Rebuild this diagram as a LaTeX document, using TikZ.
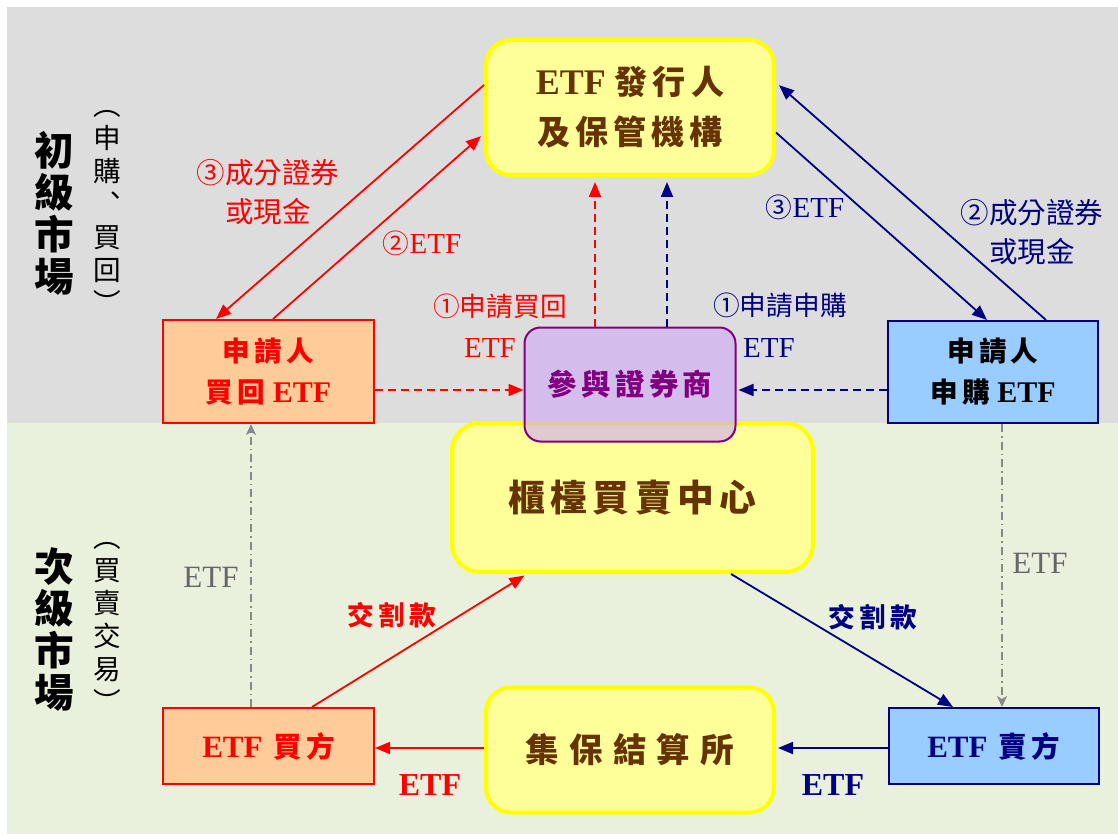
\documentclass[tikz,border=0pt]{standalone}
\usepackage{fontspec}
\setmainfont{Liberation Serif}
\newfontfamily\cjk[Scale=0.92]{Noto Sans CJK TC}
\newfontfamily\cjks[Scale=0.92,LetterSpace=15]{Noto Sans CJK TC}
\newfontfamily\cjkw[Scale=0.92,LetterSpace=30]{Noto Sans CJK TC}
\usetikzlibrary{arrows.meta,calc}
\definecolor{bggray}{RGB}{221,221,221}
\definecolor{bggreen}{RGB}{233,240,220}
\definecolor{lyel}{RGB}{255,255,153}
\definecolor{yel}{RGB}{255,255,0}
\definecolor{brn}{RGB}{102,51,0}
\definecolor{orng}{RGB}{255,204,153}
\definecolor{lblue}{RGB}{153,204,255}
\definecolor{navy}{RGB}{0,0,128}
\definecolor{purp}{RGB}{128,0,128}
\definecolor{pfill}{RGB}{206,166,246}
\definecolor{gtxt}{RGB}{102,102,102}
\definecolor{garrow}{RGB}{136,136,136}
\definecolor{rred}{RGB}{255,0,0}
\begin{document}
\begin{tikzpicture}[x=1pt,y=-1pt,
  ybox/.style={draw=yel, fill=lyel, line width=4pt, rounded corners=25pt, text=brn, align=center, inner sep=0pt},
  obox/.style={draw=rred, fill=orng, line width=2pt, text=rred, align=center, inner sep=0pt, minimum width=211pt},
  bbox/.style={draw=navy, fill=lblue, line width=2pt, align=center, inner sep=0pt, minimum width=210pt},
  rarr/.style={draw=rred, line width=1.8pt, -{Triangle[length=15pt,width=12pt]}},
  barr/.style={draw=navy, line width=1.8pt, -{Triangle[length=15pt,width=12pt]}},
  dsh/.style={dash pattern=on 8pt off 5pt},
  garr/.style={draw=garrow, line width=1.5pt, dash pattern=on 8pt off 4pt on 1.5pt off 4pt, -{Stealth[length=11pt,width=10pt,inset=3pt]}},
  lab/.style={inner sep=0pt, align=center},
  vlab/.style={inner sep=0pt, align=center},
]
\useasboundingbox (0,0) rectangle (1118,834);
\fill[white] (0,0) rectangle (1118,834);
\fill[bggray] (7,7) rectangle (1118,423);
\fill[bggreen] (7,423) rectangle (1118,834);

% side labels
\node[vlab, font=\fontsize{43}{42}\selectfont\bfseries\cjk] (pm) at (54,213) {初\\級\\市\\場};
\node[vlab, font=\fontsize{30}{33}\selectfont\cjk] (pmsub) at (107,212) {︵\\申\\購\\︑\\買\\回\\︶};
\node[vlab, font=\fontsize{43}{42}\selectfont\bfseries\cjk] (sm) at (54,630) {次\\級\\市\\場};
\node[vlab, font=\fontsize{30}{33}\selectfont\cjk] (smsub) at (107,627) {︵\\買\\賣\\交\\易\\︶};

% nodes
\node[ybox, minimum width=288pt, minimum height=135pt, font=\fontsize{36}{50}\selectfont\bfseries] (iss) at (630,107.5) {ETF {\cjks 發行人}\\{\cjks 及保管機構}};
\node[obox, minimum height=103pt, font=\fontsize{30}{41}\selectfont\bfseries] (red1) at (268.5,371.5) {{\cjks 申請人}\\{\cjks 買回} ETF};
\node[bbox, minimum height=102pt, font=\fontsize{30}{41}\selectfont\bfseries] (blue1) at (993,372) {{\cjks 申請人}\\{\cjks 申購} ETF};
\node[ybox, rounded corners=28pt, minimum width=361pt, minimum height=149pt, font=\fontsize{40}{48}\selectfont\bfseries] (otc) at (632.5,497.5) {\cjks 櫃檯買賣中心};
\node[draw=purp, line width=2pt, fill=pfill, fill opacity=0.6, text opacity=1, rounded corners=16pt, minimum width=211pt, minimum height=114pt, inner sep=0pt, text=purp, font=\fontsize{32}{40}\selectfont\bfseries] (broker) at (630,384.5) {\cjks 參與證券商};
\node[obox, minimum height=76pt, font=\fontsize{31}{40}\selectfont\bfseries] (buyer) at (268.5,746) {ETF\hspace{0.35em}{\cjks 買方}};
\node[ybox, minimum width=288pt, minimum height=125pt, font=\fontsize{36.5}{48}\selectfont\bfseries] (tdcc) at (630,750) {\cjkw 集保結算所};
\node[bbox, minimum height=76pt, text=navy, font=\fontsize{31}{40}\selectfont\bfseries] (seller) at (993.5,746) {ETF\hspace{0.35em}{\cjks 賣方}};

% primary market arrows (redemption, red)
\draw[rarr] ([yshift=22.5pt]iss.west) -- ([xshift=-52.5pt]red1.north);
\draw[rarr, shorten >=4pt] ([xshift=4.5pt]red1.north) -- ([yshift=-26pt]iss.west);
\draw[rarr, dsh] (red1.east |- 0,390) -- (broker.west |- 0,390);
\draw[rarr, dsh, shorten >=5pt] (broker.north -| 595,0) -- (iss.south -| 595,0);
% primary market arrows (creation, navy)
\draw[barr] ([yshift=-25pt]iss.east) -- ([xshift=-6pt]blue1.north);
\draw[barr, shorten >=4pt] ([xshift=53pt]blue1.north) -- ([yshift=25pt]iss.east);
\draw[barr, dsh, shorten >=2pt] (blue1.west |- 0,390) -- (broker.east |- 0,390);
\draw[barr, dsh, shorten >=5pt] (broker.north -| 667,0) -- (iss.south -| 667,0);

% secondary market arrows
\draw[garr] (buyer.north -| 251,0) -- (red1.south -| 251,0);
\draw[garr] (blue1.south -| 1002,0) -- (seller.north -| 1002,0);
\draw[rarr, shorten >=3pt] (buyer.north -| 312,0) -- (otc.south -| 527,0);
\draw[barr] (otc.south -| 731,0) -- (seller.north -| 953,0);
\draw[rarr] (tdcc.west |- 0,748) -- (buyer.east |- 0,748);
\draw[barr, shorten >=2pt] (seller.west |- 0,748) -- (tdcc.east |- 0,748);

% labels
\node[lab, text=rred, font=\fontsize{31}{39}\selectfont] (l1) at (268,192) {{\cjk ③成分證券}\\{\cjk 或現金}};
\node[lab, text=rred, font=\fontsize{29}{36}\selectfont] (l2) at (422,243) {{\cjk ②}ETF};
\node[lab, text=rred, font=\fontsize{29}{36}\selectfont] (l3) at (500,306) {\cjk ①申請買回};
\node[lab, text=rred, font=\fontsize{29}{36}\selectfont] (l3b) at (490,348) {ETF};
\node[lab, text=navy, font=\fontsize{29}{36}\selectfont] (l4) at (805,207) {{\cjk ③}ETF};
\node[lab, text=navy, font=\fontsize{31}{39}\selectfont] (l5) at (1032,232) {{\cjk ②成分證券}\\{\cjk 或現金}};
\node[lab, text=navy, font=\fontsize{29}{36}\selectfont] (l6) at (780,305) {\cjk ①申請申購};
\node[lab, text=navy, font=\fontsize{29}{36}\selectfont] (l6b) at (769,348) {ETF};
\node[lab, text=gtxt, font=\fontsize{31}{36}\selectfont] (l7) at (211,577) {ETF};
\node[lab, text=gtxt, font=\fontsize{31}{36}\selectfont] (l8) at (1040,563) {ETF};
\node[lab, text=rred, font=\fontsize{29}{36}\selectfont\bfseries] (l9) at (392,615) {\cjks 交割款};
\node[lab, text=navy, font=\fontsize{29}{36}\selectfont\bfseries] (l10) at (873,617) {\cjks 交割款};
\node[lab, text=rred, font=\fontsize{32}{36}\selectfont\bfseries] (l11) at (430,785) {ETF};
\node[lab, text=navy, font=\fontsize{32}{36}\selectfont\bfseries] (l12) at (833,785) {ETF};
\end{tikzpicture}
\end{document}
